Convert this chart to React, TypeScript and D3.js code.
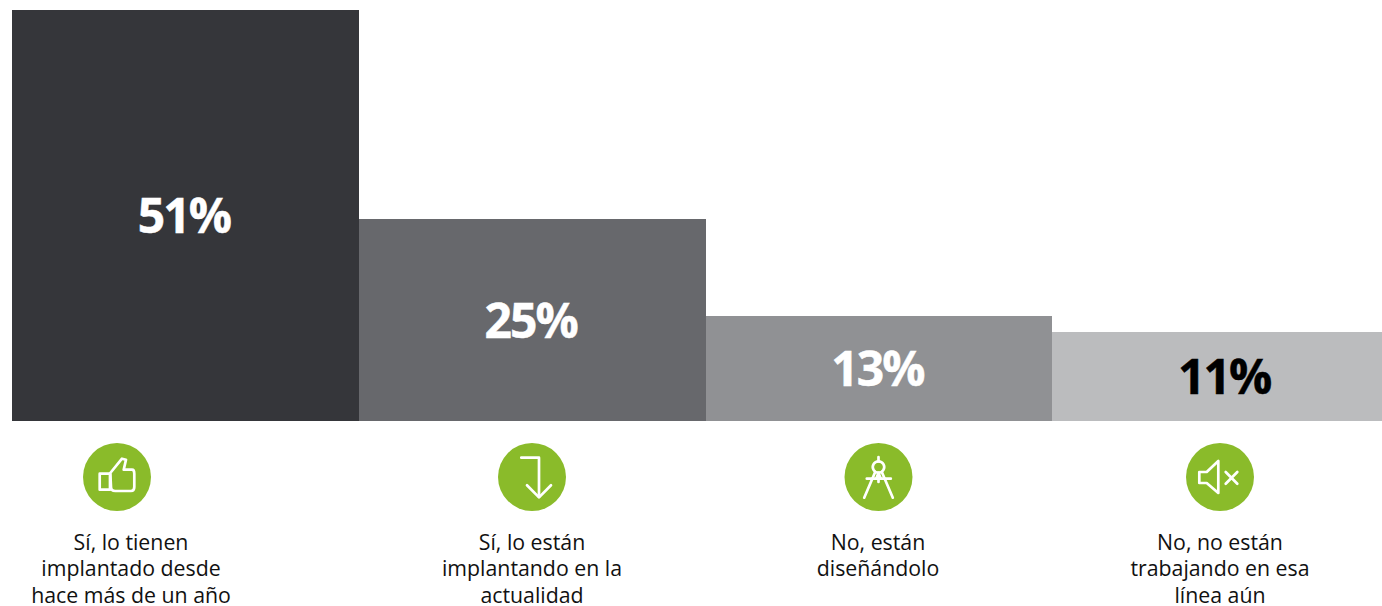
import React from "react";
import * as d3 from "d3";

const categories = ["implantado", "implantando", "disenando", "no"];
const values = [51, 25, 13, 11];
const valueLabels = ["51%", "25%", "13%", "11%"];
const captionLines = [
  ["Sí, lo tienen", "implantado desde", "hace más de un año"],
  ["Sí, lo están", "implantando en la", "actualidad"],
  ["No, están", "diseñándolo"],
  ["No, no están", "trabajando en esa", "línea aún"],
];
const barColors = ["#35363a", "#67686c", "#909194", "#bbbcbe"];
const labelColors = ["#ffffff", "#ffffff", "#ffffff", "#000000"];
const iconCenters = [117, 532, 878.5, 1220];
const captionCenters = [131, 532, 878, 1220];

const WIDTH = 1382;
const HEIGHT = 606;
const BASE = 421;
const TOP = 10;
const GREEN = "#8abb2a";
const FONT = "'Open Sans', sans-serif";

const icons: string[][] = [
  [
    "M-17.3,-3.3H-7V12.7H-17.3Z",
    "M-6.7,-4L5,-18.3L9,-17.3L6.7,-7.3H15Q17.3,-7.3 17.3,-3.3V10Q17.3,14 14,14H-1.7Q-6,14 -6,10Z",
  ],
  [
    "M-10.7,-19.3H7V20",
    "M-5,8.3L7,20.4L19,8.3",
  ],
  [
    "M0,-20V-15.7",
    "M0,-15.7A5.7,5.7 0 1 1 -0.01,-15.7Z",
    "M-3.3,-5L-14.3,20.7",
    "M3.3,-5L14.3,20.7",
    "M-11.7,1.7H12.3",
    "M0,-4L-2.3,1.7M0,-4L2.3,1.7M0,1.7V5",
  ],
  [
    "M-20.7,-5H-13.3L-1.7,-16V16L-13.3,6H-20.7Z",
    "M5.7,-5L17.3,6.7M17.3,-5L5.7,6.7",
  ],
];

export default function App() {
  const x = d3
    .scaleBand<string>()
    .domain(categories)
    .range([12, 1399]);
  const y = d3.scaleLinear().domain([0, 51]).range([BASE, TOP]);

  return (
    <svg
      width={WIDTH}
      height={HEIGHT}
      viewBox={`0 0 ${WIDTH} ${HEIGHT}`}
      style={{ position: "absolute", left: 0, top: 0, display: "block" }}
    >
      {categories.map((c, i) => {
        const exact = x(c) as number;
        const bx = Math.round(exact);
        const bw = Math.round(exact + x.bandwidth()) - bx;
        const top = Math.floor(y(values[i]));
        const cx = exact + x.bandwidth() / 2;
        return (
          <g key={c}>
            <rect x={bx} y={top} width={bw} height={BASE - top} fill={barColors[i]} />
            <text
              x={cx - 1.5}
              y={(top + BASE) / 2}
              dy="0.37em"
              textAnchor="middle"
              fontFamily={FONT}
              fontWeight={700}
              fontSize={48}
              letterSpacing={-2}
              stroke={labelColors[i]}
              strokeWidth={0.5}
              fill={labelColors[i]}
            >
              {valueLabels[i]}
            </text>
            <g transform={`translate(${iconCenters[i]},477)`}>
              <circle r={34} fill={GREEN} />
              {icons[i].map((d, k) => (
                <path
                  key={k}
                  d={d}
                  fill="none"
                  stroke="#fff"
                  strokeWidth={2.7}
                  strokeLinejoin="round"
                  strokeLinecap="round"
                />
              ))}
            </g>
            <text
              textAnchor="middle"
              fontFamily={FONT}
              fontSize={21.3}
              fill="#111111"
            >
              {captionLines[i].map((line, k) => (
                <tspan key={k} x={captionCenters[i]} y={549.5 + k * 26.7}>
                  {line}
                </tspan>
              ))}
            </text>
          </g>
        );
      })}
    </svg>
  );
}
